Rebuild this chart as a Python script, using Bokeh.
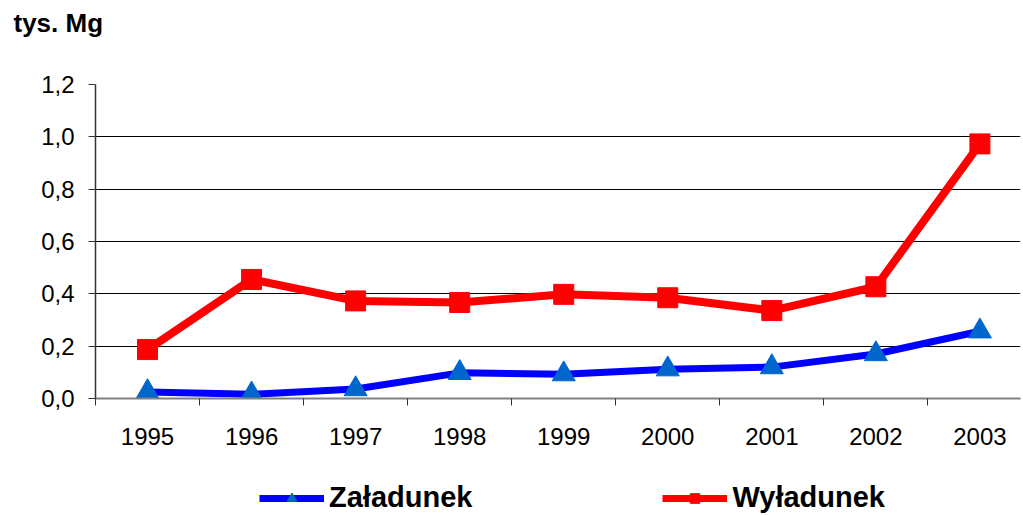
from bokeh.plotting import figure
from bokeh.layouts import column
from bokeh.models import (FixedTicker, CustomJSTickFormatter, Legend, LegendItem,
                          Range1d, ColumnDataSource)
from bokeh.embed import file_html
from bokeh.resources import INLINE

years = [1995, 1996, 1997, 1998, 1999, 2000, 2001, 2002, 2003]
zaladunek = [0.025, 0.016, 0.036, 0.098, 0.093, 0.112, 0.120, 0.170, 0.257]
wyladunek = [0.187, 0.455, 0.373, 0.367, 0.398, 0.385, 0.336, 0.427, 0.973]
y_ticks = [0.0, 0.2, 0.4, 0.6, 0.8, 1.0, 1.2]
y_title = "tys. Mg"
names = ["Załadunek", "Wyładunek"]

FONT = "Liberation Sans"
BLUE_LINE, BLUE_MARK, RED = "#0000FF", "#0066CC", "#FF0000"

p = figure(width=1023, height=465, output_backend="svg", toolbar_location=None,
           x_range=Range1d(1994.5, 2003.39), y_range=Range1d(0, 1.2))
p.min_border_left = 95
p.min_border_right = 3
p.min_border_top = 81
p.min_border_bottom = 67
p.outline_line_color = None
p.background_fill_color = "white"

p.title.text = y_title + "\n "
p.title.text_font = FONT
p.title.text_font_size = "26px"
p.title.text_font_style = "bold"
p.title.text_color = "black"
p.title.text_line_height = 1.4
p.title.align = "left"
p.title.vertical_align = "bottom"
p.title.offset = -82
p.title.standoff = 10

src = ColumnDataSource(dict(x=years, z=zaladunek, w=wyladunek))

p.line("x", "z", source=src, line_color=BLUE_LINE, line_width=7)
p.scatter("x", "z", source=src, marker="triangle", size=23,
          fill_color=BLUE_MARK, line_color=BLUE_MARK)
p.line("x", "w", source=src, line_color=RED, line_width=8)
p.scatter("x", "w", source=src, marker="square", size=20,
          fill_color=RED, line_color=RED)

# x axis
xa = p.xaxis[0]
xa.ticker = FixedTicker(ticks=years, minor_ticks=[y + 0.5 for y in [1994] + years])
xa.major_tick_out = 0
xa.major_tick_in = 0
xa.minor_tick_out = 7
xa.minor_tick_in = 0
xa.minor_tick_line_color = "#333333"
xa.axis_line_color = "#808080"
xa.axis_line_width = 2
xa.major_label_text_font = FONT
xa.major_label_text_font_size = "24px"
xa.major_label_text_color = "black"
xa.major_label_standoff = 22

# y axis
ya = p.yaxis[0]
ya.ticker = FixedTicker(ticks=y_ticks)
ya.formatter = CustomJSTickFormatter(code="return tick.toFixed(1).replace('.', ',');")
ya.major_tick_out = 7
ya.major_tick_in = 0
ya.minor_tick_out = 0
ya.minor_tick_in = 0
ya.major_tick_line_color = "#333333"
ya.axis_line_color = "#333333"
ya.axis_line_width = 1.5
ya.major_label_text_font = FONT
ya.major_label_text_font_size = "24px"
ya.major_label_text_color = "black"
ya.major_label_standoff = 14

p.xgrid.grid_line_color = None
p.ygrid.ticker = FixedTicker(ticks=y_ticks)
p.ygrid.grid_line_color = "black"
p.ygrid.grid_line_width = 1

# legend strip below the chart (frame aligned with the chart's frame);
# proxy renderers use the same data but lie outside this strip's ranges
p2 = figure(width=1023, height=50, output_backend="svg", toolbar_location=None,
            x_range=Range1d(0, 1), y_range=Range1d(0, 1), min_border=0)
p2.axis.visible = False
p2.grid.visible = False
p2.outline_line_color = None
l1 = p2.line("x", "z", source=src, line_color=BLUE_LINE, line_width=7)
m1 = p2.scatter("x", "z", source=src, marker="triangle", size=23,
                fill_color=BLUE_MARK, line_color=BLUE_MARK)
l2 = p2.line("x", "w", source=src, line_color=RED, line_width=7)
m2 = p2.scatter("x", "w", source=src, marker="square", size=20,
                fill_color=RED, line_color=RED)

legend = Legend(items=[LegendItem(label=names[0], renderers=[l1, m1]),
                       LegendItem(label=names[1], renderers=[l2, m2])],
                orientation="horizontal", location=(164, 1),
                label_text_font=FONT, label_text_font_size="29px",
                label_text_font_style="bold", label_text_color="black",
                glyph_width=65, glyph_height=24, spacing=190,
                label_standoff=5, border_line_color=None,
                background_fill_alpha=0, padding=0, margin=0)
p2.add_layout(legend, "center")

open("out.html", "w").write(file_html(column(p, p2, spacing=0), INLINE))
